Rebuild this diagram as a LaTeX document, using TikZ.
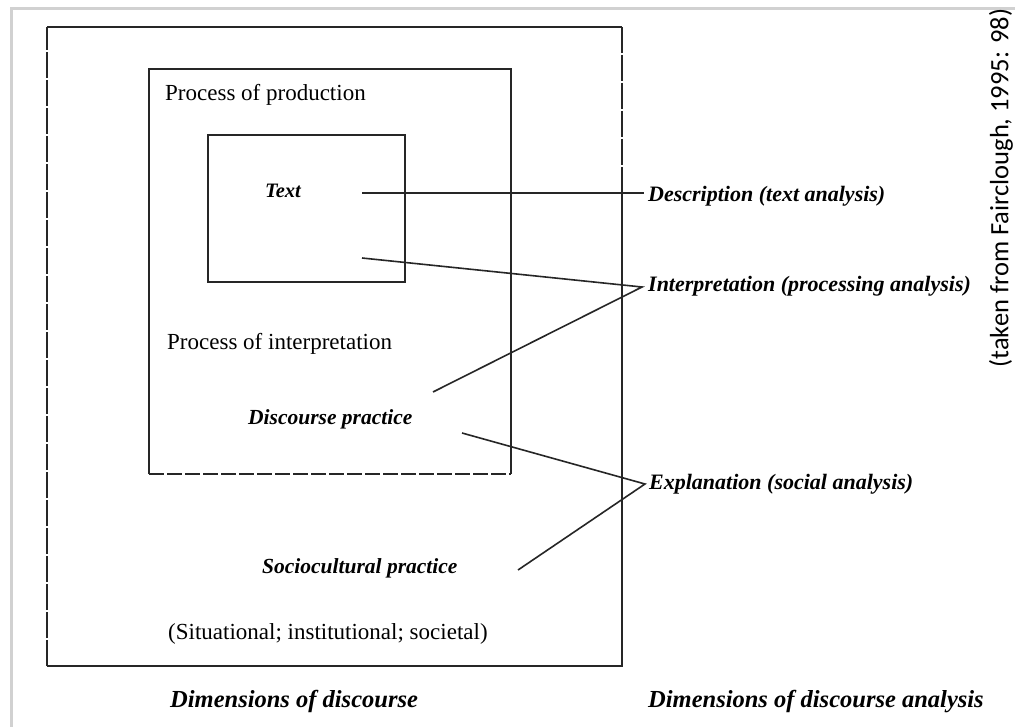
\documentclass[tikz,border=0pt]{standalone}
\usepackage{fontspec}
\setmainfont{Liberation Serif}
\newfontfamily\notefont{Carlito}
\begin{document}
\begin{tikzpicture}[x=1pt,y=-1pt,
  frameline/.style={line width=1.8pt,black!85},
  brokenline/.style={frameline,dash pattern=on 26pt off 2pt},
  link/.style={line width=1.6pt,black!85},
  plain/.style={inner sep=0pt,anchor=base west,font=\fontsize{23}{23}\selectfont},
  dimlabel/.style={inner sep=0pt,anchor=base west,font=\fontsize{21.5}{21.5}\selectfont\bfseries\itshape},
  analysis/.style={inner sep=0pt,anchor=base west,font=\fontsize{22}{22}\selectfont\bfseries\itshape},
  heading/.style={inner sep=0pt,anchor=base west,font=\fontsize{24.5}{24.5}\selectfont\bfseries\itshape}]
\useasboundingbox (0,0) rectangle (1015,727);
\fill[white] (0,0) rectangle (1015,727);
% light page frame
\draw[black!18,line width=3pt] (11,727) -- (11,8.5) -- (1015,8.5);

% outer box: sociocultural practice
\draw[frameline] (47,27) -- (622,27);
\draw[brokenline] (622,27) -- (622,180);
\draw[frameline] (622,180) -- (622,666) -- (47,666);
\draw[brokenline] (47,666) -- (47,27);

% middle box: discourse practice
\draw[frameline] (149,474) -- (149,69) -- (511,69) -- (511,474);
\draw[frameline,dash pattern=on 15pt off 3pt] (149,474) -- (511,474);

% inner box: text
\draw[frameline] (208,135) rectangle (405,282);

% labels inside the boxes
\node[plain] (prod) at (165,101) {Process of production};
\node[dimlabel,font=\fontsize{20.5}{20.5}\selectfont\bfseries\itshape] (text) at (265,198) {Text};
\node[plain] (interp) at (167,350) {Process of interpretation};
\node[dimlabel] (disc) at (248,424) {Discourse practice};
\node[dimlabel] (socio) at (262,573) {Sociocultural practice};
\node[plain] (sit) at (168,639) {(Situational; institutional; societal)};

% labels for the dimensions of analysis
\node[analysis] (descr) at (648,202) {Description (text analysis)};
\node[analysis] (interpr) at (648,292) {Interpretation (processing analysis)};
\node[analysis] (expl) at (649,489) {Explanation (social analysis)};

% column headings
\node[heading] (dimA) at (170,707) {Dimensions of discourse};
\node[heading] (dimB) at (648,707) {Dimensions of discourse analysis};

% source note
\node[font=\notefont\fontsize{26.5}{26.5}\selectfont,rotate=90,inner sep=0pt] (src) at (1001,188) {(taken from Fairclough, 1995: 98)};

% connector ends
\coordinate (tA) at (362,193);
\coordinate (tB) at (362,258);
\coordinate (dA) at (433,392);
\coordinate (dB) at (462,433);
\coordinate (sA) at (518,570);
\coordinate (pD) at (644,193);
\coordinate (pI) at (642,287);
\coordinate (pE) at (645,484);

\draw[link] (tA) -- (pD);
\draw[link] (tB) -- (pI) -- (dA);
\draw[link] (dB) -- (pE) -- (sA);
\end{tikzpicture}
\end{document}
